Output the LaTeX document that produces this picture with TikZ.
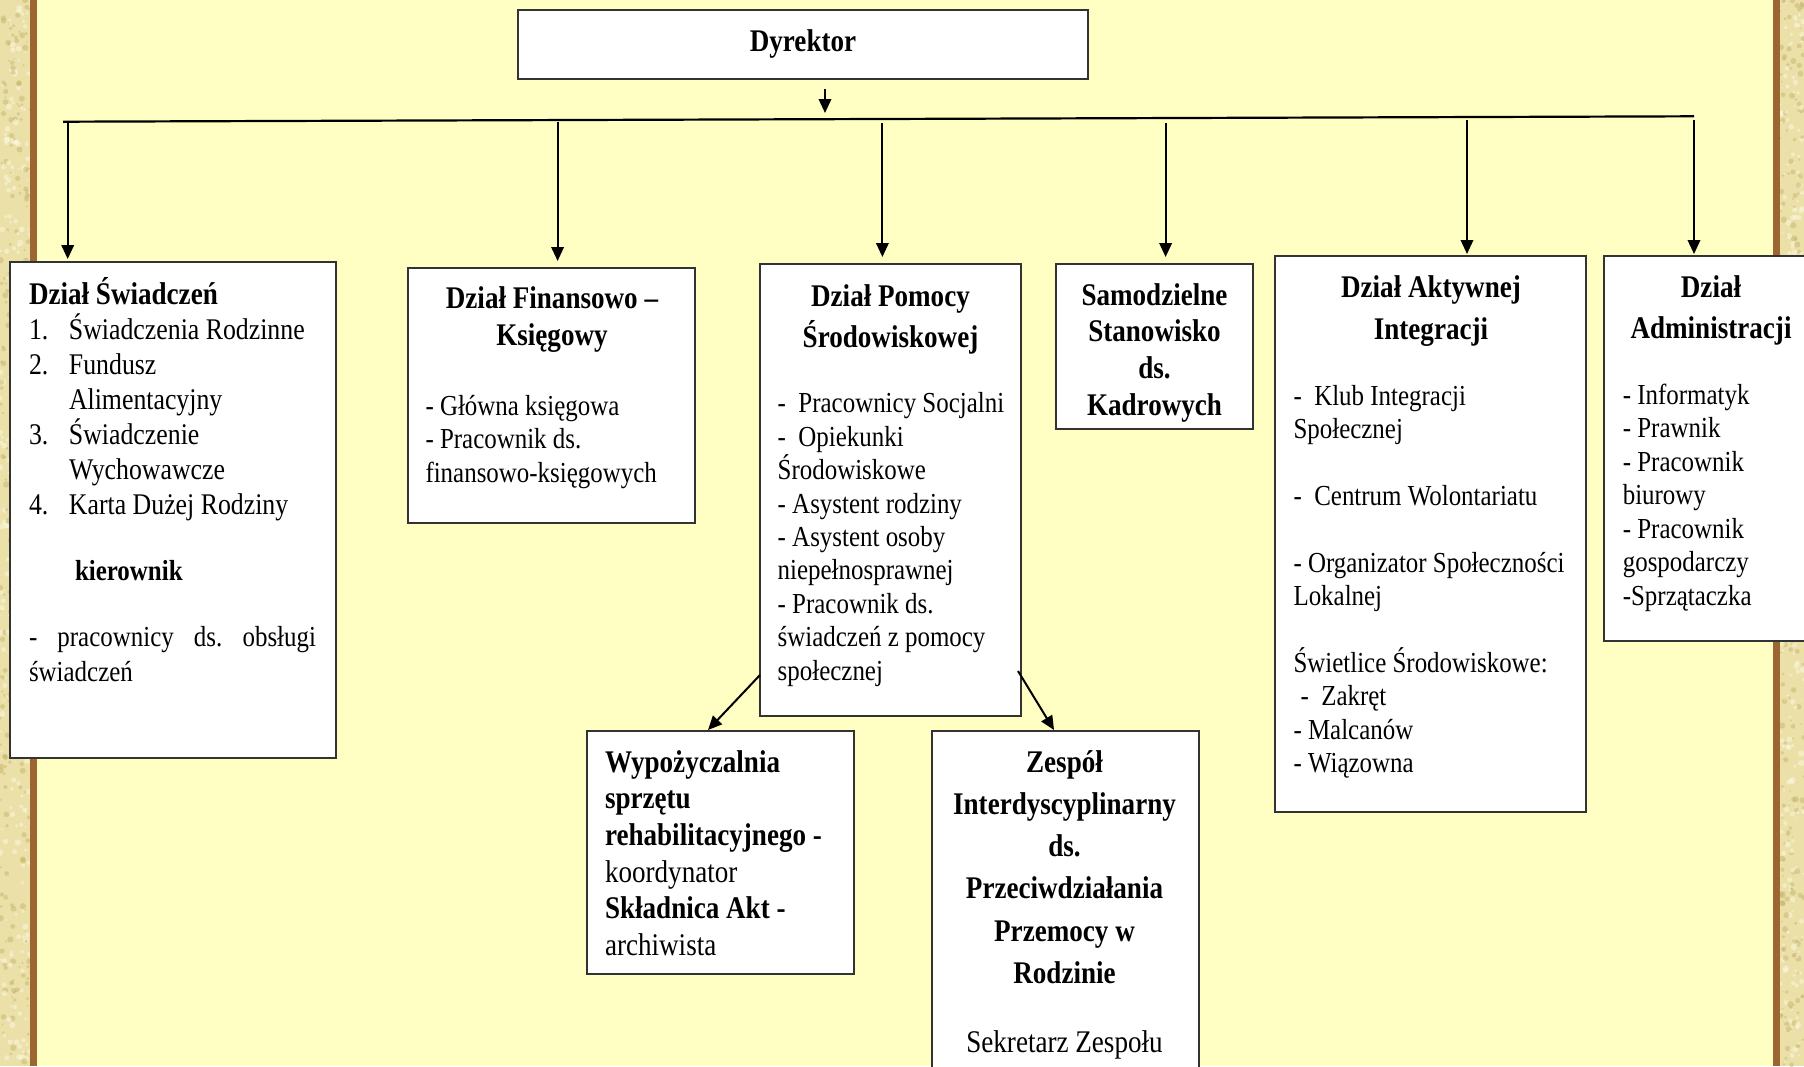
\documentclass[tikz,border=0pt]{standalone}
\usepackage{fontspec}
\setmainfont{Liberation Serif}[FakeStretch=0.86]
\usetikzlibrary{arrows.meta}
\definecolor{bgyellow}{RGB}{255,255,196}
\definecolor{brownline}{RGB}{156,101,50}
\definecolor{texbase}{RGB}{234,224,168}
\definecolor{texdark}{RGB}{196,176,104}
\definecolor{texlight}{RGB}{250,246,218}
\newcommand{\fst}{\rule{0pt}{1em}}
\frenchspacing
\begin{document}
\frenchspacing
\begin{tikzpicture}[x=1pt,y=-1pt,
  box/.style={draw=black!80, line width=1.2pt, fill=white, inner sep=0pt, outer sep=0pt},
  arr/.style={line width=2pt, -{Triangle[width=12.5pt,length=14pt]}},
  bus/.style={line width=2.2pt},
  lt/.style={inner sep=0pt, outer sep=0pt, anchor=north west, align=left},
  ct/.style={inner sep=0pt, outer sep=0pt, anchor=north, align=center},
  bt/.style={font=\fontsize{31.5}{#1}\selectfont\bfseries},
  rt/.style={font=\fontsize{29}{#1}\selectfont},
  rbig/.style={font=\fontsize{31.5}{#1}\selectfont},
]
\useasboundingbox (0,0) rectangle (1804,1066);
\clip (0,0) rectangle (1804,1066);
% background
\fill[texbase] (0,0) rectangle (1804,1066);
\pgfmathsetseed{4242}
\foreach \i in {1,...,260}{
  \pgfmathsetmacro{\xx}{rnd*30}\pgfmathsetmacro{\yy}{rnd*1066}\pgfmathsetmacro{\rr}{0.8+rnd*2.4}
  \fill[texdark,opacity=0.45] (\xx,\yy) circle[radius=\rr];
  \pgfmathsetmacro{\xx}{rnd*30}\pgfmathsetmacro{\yy}{rnd*1066}\pgfmathsetmacro{\rr}{0.8+rnd*2.4}
  \fill[texlight,opacity=0.6] (\xx,\yy) circle[radius=\rr];
  \pgfmathsetmacro{\xx}{1780+rnd*24}\pgfmathsetmacro{\yy}{rnd*1066}\pgfmathsetmacro{\rr}{0.8+rnd*2.4}
  \fill[texdark,opacity=0.45] (\xx,\yy) circle[radius=\rr];
  \pgfmathsetmacro{\xx}{1780+rnd*24}\pgfmathsetmacro{\yy}{rnd*1066}\pgfmathsetmacro{\rr}{0.8+rnd*2.4}
  \fill[texlight,opacity=0.6] (\xx,\yy) circle[radius=\rr];
}
\fill[bgyellow] (37,0) rectangle (1773,1066);
\fill[brownline] (30,0) rectangle (37,1066);
\fill[brownline] (1773,0) rectangle (1780,1066);

% boxes
\node[box, minimum width=570pt, minimum height=69pt] (dyr) at (803,44.5) {};
\node[box, minimum width=326pt, minimum height=496pt] (swiad) at (173,510) {};
\node[box, minimum width=287pt, minimum height=255pt] (fin) at (551.5,395.5) {};
\node[box, minimum width=261pt, minimum height=452pt] (pom) at (890.5,490) {};
\node[box, minimum width=197pt, minimum height=165pt] (kadr) at (1154.5,346.5) {};
\node[box, minimum width=311pt, minimum height=556pt] (akt) at (1430.5,534) {};
\node[box, minimum width=212pt, minimum height=385pt] (adm) at (1710,448.5) {};
\node[box, minimum width=267pt, minimum height=243pt] (wyp) at (720.5,852.5) {};
\node[box, minimum width=267pt, minimum height=349pt] (zesp) at (1065.5,905.5) {};

% texts
\node[ct, bt=36] (tdyr) at (803,20.4) {\fst Dyrektor};

\node[lt, bt=36] (tswiad) at (29,272.5) {\fst Dział Świadczeń};
\node[lt, font=\fontsize{30}{35.1}\selectfont] (lswiad) at (29,309) {\fst\makebox[40pt][l]{1.}Świadczenia Rodzinne\\
\makebox[40pt][l]{2.}Fundusz\\
\makebox[40pt][l]{}Alimentacyjny\\
\makebox[40pt][l]{3.}Świadczenie\\
\makebox[40pt][l]{}Wychowawcze\\
\makebox[40pt][l]{4.}Karta Dużej Rodziny};
\node[lt, font=\fontsize{29}{34}\selectfont\bfseries] (tkier) at (75,551.3) {\fst kierownik};
\node[lt, rt=35] (lprac) at (29,617.2) {\fst\makebox[287pt][s]{- pracownicy ds. obsługi}\\świadczeń};

\node[ct, bt=37] (tfin) at (552,276.5) {\fst Dział Finansowo –\\Księgowy};
\node[lt, rt=33.7] (lfin) at (425.5,386.2) {\fst - Główna księgowa\\- Pracownik ds.\\finansowo-księgowych};

\node[ct, bt=41.7] (tpom) at (890.5,274.7) {\fst Dział Pomocy\\Środowiskowej};
\node[lt, rt=33.4] (lpom) at (777.7,383.9) {\fst -~~Pracownicy Socjalni\\
-~~Opiekunki\\
Środowiskowe\\
- Asystent rodziny\\
- Asystent osoby\\
niepełnosprawnej\\
- Pracownik ds.\\
świadczeń z pomocy\\
społecznej};

\node[ct, bt=36.8] (tkadr) at (1154.5,273.5) {\fst Samodzielne\\Stanowisko\\ds.\\Kadrowych};

\node[ct, bt=42] (takt) at (1431,265.7) {\fst Dział Aktywnej\\Integracji};
\node[lt, rt=33.4] (lakt) at (1293.5,376.1) {\fst -~~Klub Integracji\\
Społecznej\\[33.4pt]
-~~Centrum Wolontariatu\\[33.4pt]
- Organizator Społeczności\\
Lokalnej\\[33.4pt]
Świetlice Środowiskowe:\\
\hspace*{7pt}-~~Zakręt\\
- Malcanów\\
- Wiązowna};

\node[ct, bt=41.8] (tadm) at (1711,265.5) {\fst Dział\\Administracji};
\node[lt, rt=33.5] (ladm) at (1622.8,375) {\fst - Informatyk\\
- Prawnik\\
- Pracownik\\
biurowy\\
- Pracownik\\
gospodarczy\\
-Sprzątaczka};

\node[lt, rbig=36.6] (lwyp) at (605,740.8) {\fst\textbf{Wypożyczalnia}\\
\textbf{sprzętu}\\
\textbf{rehabilitacyjnego -}\\
koordynator\\
\textbf{Składnica Akt -}\\
archiwista};

\node[ct, bt=42.2] (tzesp) at (1064.5,740.8) {\fst Zespół\\Interdyscyplinarny\\ds.\\Przeciwdziałania\\Przemocy w\\Rodzinie\\[26.7pt]\textmd{Sekretarz Zespołu}};

% connectors
\coordinate (busL) at (63,121.7);
\coordinate (busR) at (1694,116.3);
\draw[bus] (busL) -- (busR);
\coordinate (bd) at (825,118.7);
\draw[arr, shorten <=10pt, shorten >=5.7pt] (dyr.south -| bd) -- (bd);

\coordinate (b1) at (67.7,121);
\coordinate (b2) at (557.6,121.5);
\coordinate (b3) at (882.4,122.7);
\coordinate (b4) at (1165.6,123);
\coordinate (b5) at (1467,120);
\coordinate (b6) at (1694,120);
\draw[arr, shorten >=3pt] (b1) -- (b1 |- swiad.north);
\draw[arr, shorten >=7pt] (b2) -- (b2 |- fin.north);
\draw[arr, shorten >=7pt] (b3) -- (b3 |- pom.north);
\draw[arr, shorten >=7pt] (b4) -- (b4 |- kadr.north);
\draw[arr, shorten >=2pt] (b5) -- (b5 |- akt.north);
\draw[arr, shorten >=2pt] (b6) -- (b6 |- adm.north);

\coordinate (p1) at (760,675);
\coordinate (p2) at (1018,671);
\draw[arr] (p1) -- ([xshift=121pt,yshift=1pt]wyp.north west);
\draw[arr] (p2) -- ([xshift=122pt,yshift=1pt]zesp.north west);
\end{tikzpicture}
\end{document}
